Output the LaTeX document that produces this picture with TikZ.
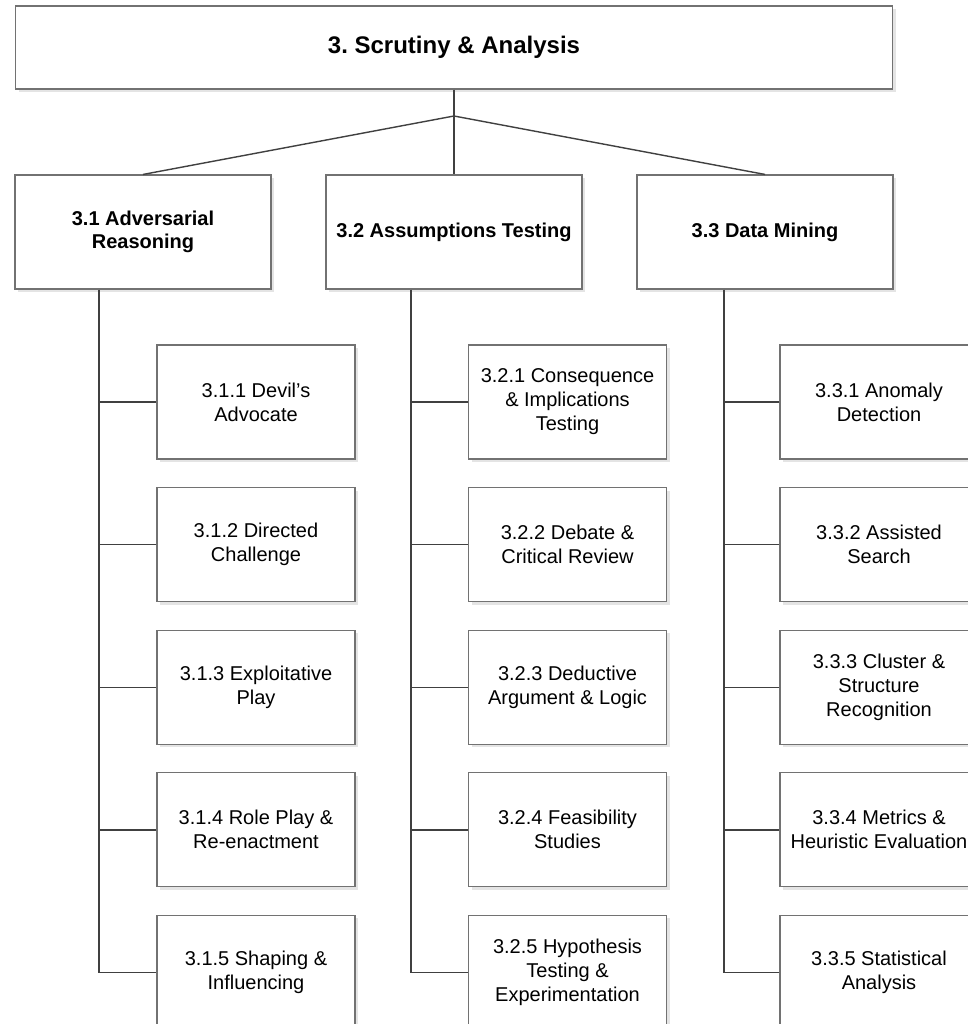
\documentclass[tikz,border=0pt]{standalone}
\usepackage{fontspec}
\setmainfont{Liberation Sans}
\usetikzlibrary{positioning, shadows}

\definecolor{boxgray}{HTML}{727272}
\definecolor{linkgray}{HTML}{404040}
\definecolor{shadegray}{HTML}{E4E4E4}

\frenchspacing

\begin{document}
\begin{tikzpicture}[
    x=1pt, y=-1pt,
    node distance=27.5pt,
    boxbase/.style={rectangle, draw=boxgray, line width=1.1pt, fill=white, align=center,
                    drop shadow={shadow xshift=3pt, shadow yshift=-3pt, fill=shadegray, opacity=1}},
    root/.style={boxbase, minimum width=877pt, minimum height=83pt,
                 font=\fontsize{24}{28}\selectfont\bfseries},
    area/.style={boxbase, minimum width=256pt, minimum height=114pt,
                 font=\fontsize{20}{23}\selectfont\bfseries},
    method/.style={boxbase, minimum width=198pt, minimum height=114pt,
                   font=\fontsize{20}{24}\selectfont},
    link/.style={draw=linkgray, line width=1.4pt}
]

\path[use as bounding box, fill=white] (0,0) rectangle (967,1024);

\node[root] (scrutiny) at (454,47.5) {3. Scrutiny \& Analysis};

\node[area] (adversarial) at (143,232) {3.1 Adversarial\\Reasoning};
\node[area] (assumptions) at (454,232) {3.2 Assumptions Testing};
\node[area] (datamining) at (765,232) {3.3 Data Mining};

% 3.1 column
\node[method] (devil) at (256,402) {3.1.1 Devil’s\\Advocate};
\node[method, below=of devil] (directed) {3.1.2 Directed\\Challenge};
\node[method, below=of directed] (exploit) {3.1.3 Exploitative\\Play};
\node[method, below=of exploit] (roleplay) {3.1.4 Role Play \&\\Re-enactment};
\node[method, below=of roleplay] (shaping) {3.1.5 Shaping \&\\Influencing};

% 3.2 column
\node[method] (consequence) at (567.5,402) {3.2.1 Consequence\\\& Implications\\Testing};
\node[method, below=of consequence] (debate) {3.2.2 Debate \&\\Critical Review};
\node[method, below=of debate] (deductive) {3.2.3 Deductive\\Argument \& Logic};
\node[method, below=of deductive] (feasibility) {3.2.4 Feasibility\\Studies};
\node[method, below=of feasibility] (hypothesis) {3.2.5 Hypothesis\\Testing \&\\Experimentation};

% 3.3 column
\node[method] (anomaly) at (879,402) {3.3.1 Anomaly\\Detection};
\node[method, below=of anomaly] (search) {3.3.2 Assisted\\Search};
\node[method, below=of search] (cluster) {3.3.3 Cluster \&\\Structure\\Recognition};
\node[method, below=of cluster] (metrics) {3.3.4 Metrics \&\\Heuristic Evaluation};
\node[method, below=of metrics] (statistical) {3.3.5 Statistical\\Analysis};

\coordinate (hub) at (454,116);
\coordinate[left=44pt of adversarial.south] (spineA);
\coordinate[left=43pt of assumptions.south] (spineB);
\coordinate[left=41pt of datamining.south] (spineC);

\draw[link] (scrutiny.south) -- (hub);
\draw[link] (hub) -- (adversarial.north);
\draw[link] (hub) -- (assumptions.north);
\draw[link] (hub) -- (datamining.north);

\draw[link] (spineA) |- (shaping.west);
\draw[link] (devil.west) -- (devil.west -| spineA);
\draw[link] (directed.west) -- (directed.west -| spineA);
\draw[link] (exploit.west) -- (exploit.west -| spineA);
\draw[link] (roleplay.west) -- (roleplay.west -| spineA);

\draw[link] (spineB) |- (hypothesis.west);
\draw[link] (consequence.west) -- (consequence.west -| spineB);
\draw[link] (debate.west) -- (debate.west -| spineB);
\draw[link] (deductive.west) -- (deductive.west -| spineB);
\draw[link] (feasibility.west) -- (feasibility.west -| spineB);

\draw[link] (spineC) |- (statistical.west);
\draw[link] (anomaly.west) -- (anomaly.west -| spineC);
\draw[link] (search.west) -- (search.west -| spineC);
\draw[link] (cluster.west) -- (cluster.west -| spineC);
\draw[link] (metrics.west) -- (metrics.west -| spineC);

\end{tikzpicture}
\end{document}
